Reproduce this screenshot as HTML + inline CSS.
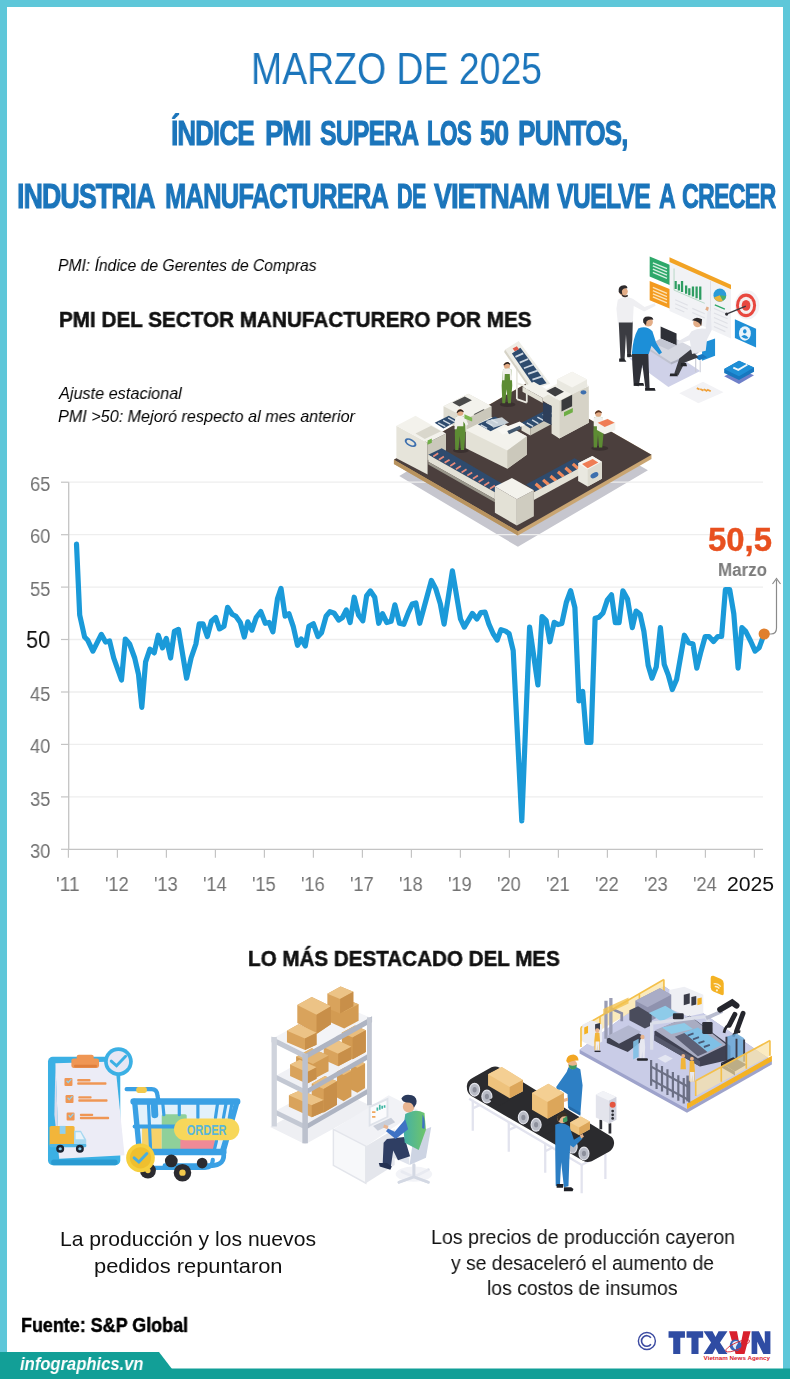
<!DOCTYPE html>
<html lang="es"><head><meta charset="utf-8"><title>PMI Vietnam marzo 2025</title>
<style>
html,body{margin:0;padding:0;background:#fff;}
body{width:790px;height:1379px;position:relative;overflow:hidden;font-family:"Liberation Sans",sans-serif;}
.abs{position:absolute;}
.t{position:absolute;white-space:nowrap;line-height:1;transform-origin:0 0;will-change:transform;}
.bar{position:absolute;}
</style></head><body>
<div class="bar" style="left:0;top:0;width:790px;height:7px;background:#5ec7d9"></div>
<div class="bar" style="left:0;top:0;width:7px;height:1353px;background:#5ec7d9"></div>
<div class="bar" style="left:783px;top:0;width:7px;height:1369px;background:#5ec7d9"></div>
<svg class="abs" style="left:0;top:1340px" width="790" height="39" viewBox="0 1340 790 39">
<rect x="0" y="1368.5" width="790" height="11" fill="#129f97"/>
<path d="M0 1352 H159 L172 1369 H0 Z" fill="#129f97"/>
</svg>
<svg class="abs" style="left:385px;top:330px" width="280" height="220" viewBox="0 0 790 621">
<polygon points="40,412 375,612 742,396 700,372 375,560 80,388" fill="#c6c6ce"/>
</svg>

<svg class="abs" style="left:0;top:0" width="790" height="1379" viewBox="0 0 790 1379">
<line x1="68.7" x2="763" y1="482.2" y2="482.2" stroke="#eeeeee" stroke-width="1.3"/>
<line x1="68.7" x2="763" y1="534.7" y2="534.7" stroke="#eeeeee" stroke-width="1.3"/>
<line x1="68.7" x2="763" y1="587.1" y2="587.1" stroke="#eeeeee" stroke-width="1.3"/>
<line x1="68.7" x2="763" y1="639.5" y2="639.5" stroke="#eeeeee" stroke-width="1.3"/>
<line x1="68.7" x2="763" y1="692.0" y2="692.0" stroke="#eeeeee" stroke-width="1.3"/>
<line x1="68.7" x2="763" y1="744.4" y2="744.4" stroke="#eeeeee" stroke-width="1.3"/>
<line x1="68.7" x2="763" y1="796.9" y2="796.9" stroke="#eeeeee" stroke-width="1.3"/>
<line x1="61" x2="68.7" y1="482.2" y2="482.2" stroke="#c4c4c4" stroke-width="1.2"/>
<line x1="61" x2="68.7" y1="534.7" y2="534.7" stroke="#c4c4c4" stroke-width="1.2"/>
<line x1="61" x2="68.7" y1="587.1" y2="587.1" stroke="#c4c4c4" stroke-width="1.2"/>
<line x1="61" x2="68.7" y1="639.5" y2="639.5" stroke="#c4c4c4" stroke-width="1.2"/>
<line x1="61" x2="68.7" y1="692.0" y2="692.0" stroke="#c4c4c4" stroke-width="1.2"/>
<line x1="61" x2="68.7" y1="744.4" y2="744.4" stroke="#c4c4c4" stroke-width="1.2"/>
<line x1="61" x2="68.7" y1="796.9" y2="796.9" stroke="#c4c4c4" stroke-width="1.2"/>
<line x1="61" x2="68.7" y1="849.3" y2="849.3" stroke="#c4c4c4" stroke-width="1.2"/>
<line x1="68.7" x2="68.7" y1="482.2" y2="849.9" stroke="#c4c4c4" stroke-width="1.3"/>
<line x1="68.7" x2="763" y1="849.3" y2="849.3" stroke="#c4c4c4" stroke-width="1.3"/>
<line x1="68.4" x2="68.4" y1="849.3" y2="857.8" stroke="#c4c4c4" stroke-width="1.2"/>
<line x1="117.4" x2="117.4" y1="849.3" y2="857.8" stroke="#c4c4c4" stroke-width="1.2"/>
<line x1="166.4" x2="166.4" y1="849.3" y2="857.8" stroke="#c4c4c4" stroke-width="1.2"/>
<line x1="215.4" x2="215.4" y1="849.3" y2="857.8" stroke="#c4c4c4" stroke-width="1.2"/>
<line x1="264.4" x2="264.4" y1="849.3" y2="857.8" stroke="#c4c4c4" stroke-width="1.2"/>
<line x1="313.4" x2="313.4" y1="849.3" y2="857.8" stroke="#c4c4c4" stroke-width="1.2"/>
<line x1="362.4" x2="362.4" y1="849.3" y2="857.8" stroke="#c4c4c4" stroke-width="1.2"/>
<line x1="411.4" x2="411.4" y1="849.3" y2="857.8" stroke="#c4c4c4" stroke-width="1.2"/>
<line x1="460.4" x2="460.4" y1="849.3" y2="857.8" stroke="#c4c4c4" stroke-width="1.2"/>
<line x1="509.4" x2="509.4" y1="849.3" y2="857.8" stroke="#c4c4c4" stroke-width="1.2"/>
<line x1="558.4" x2="558.4" y1="849.3" y2="857.8" stroke="#c4c4c4" stroke-width="1.2"/>
<line x1="607.4" x2="607.4" y1="849.3" y2="857.8" stroke="#c4c4c4" stroke-width="1.2"/>
<line x1="656.4" x2="656.4" y1="849.3" y2="857.8" stroke="#c4c4c4" stroke-width="1.2"/>
<line x1="705.4" x2="705.4" y1="849.3" y2="857.8" stroke="#c4c4c4" stroke-width="1.2"/>
<line x1="754.4" x2="754.4" y1="849.3" y2="857.8" stroke="#c4c4c4" stroke-width="1.2"/>
<!--LINE-->
</svg>

<svg class="abs" style="left:385px;top:330px" width="280" height="220" viewBox="0 0 790 621">
<!-- shadow -->
<!-- platform -->
<polygon points="25,366 400,150 752,352 752,364 375,580 25,378" fill="#c9a572"/>
<polygon points="25,366 400,150 752,352 375,568" fill="#4b3f3d"/>
<polygon points="25,366 375,568 375,580 25,378" fill="#b8935f"/>
<!-- back-left unit -->
<polygon points="165,215 235,180 300,215 300,255 232,290 165,255" fill="#dddbd0"/>
<polygon points="165,215 235,180 300,215 232,250" fill="#f3f2ec"/>
<polygon points="190,205 225,188 245,198 210,216" fill="#4a4a4a"/>
<polygon points="250,238 278,224 290,231 262,245" fill="#4a4a4a"/>
<polygon points="232,250 300,215 300,255 232,290" fill="#cbc8bb"/>
<!-- ramp supports -->
<path d="M372,95 V195 M400,120 V205 M372,195 L400,205 M372,150 L400,160" stroke="#e9e8e0" stroke-width="5" fill="none"/>
<!-- ramp -->
<polygon points="339,55 377,31 466,152 416,168" fill="#eeede6"/><polygon points="339,55 416,168 416,178 336,62" fill="#d6d3c7"/>
<polygon points="358,66 382,50 456,150 422,160" fill="#2e4b6e"/>
<path d="M368,76 l22,-10 M380,92 l24,-10 M392,108 l26,-10 M404,124 l28,-10 M416,140 l30,-10" stroke="#cfd8e3" stroke-width="5"/>
<polygon points="360,52 372,46 378,54 366,60" fill="#e05a4a"/>
<!-- conveyor mid (to tall machine) -->
<polygon points="385,262 470,218 495,232 410,278" fill="#2e4b6e"/>
<path d="M400,262 l18,10 M415,254 l18,10 M430,246 l18,10 M445,238 l18,10 M460,230 l18,10" stroke="#cfd8e3" stroke-width="4"/>
<polygon points="385,262 410,278 410,298 385,284" fill="#e3e1d6"/>
<polygon points="410,278 495,232 495,252 410,298" fill="#cbc8bb"/>
<!-- tall machine right -->
<polygon points="485,175 535,150 575,170 575,262 492,306 485,300" fill="#e3e1d6"/>
<polygon points="492,200 575,158 575,262 492,306" fill="#d6d3c7"/>
<polygon points="445,172 528,130 575,156 492,200" fill="#f3f2ec"/>
<polygon points="445,172 492,200 492,306 470,292 470,215 445,200" fill="#e3e1d6"/>
<polygon points="388,160 420,146 470,176 445,192" fill="#f3f2ec"/>
<polygon points="388,160 445,192 445,206 388,174" fill="#e3e1d6"/>
<polygon points="446,204 470,214 470,268 446,256" fill="#2e3f5a"/>
<polygon points="485,140 528,118 570,140 570,160 528,182 485,160" fill="#e9e8e0"/>
<polygon points="485,140 528,118 570,140 528,162" fill="#f6f5f0"/>
<polygon points="455,172 480,160 505,174 480,188" fill="#3e3e40"/>
<polygon points="498,198 528,183 528,215 498,230" fill="#3a3a3c"/>
<polygon points="505,232 530,220 530,232 505,244" fill="#6fae45"/>
<ellipse cx="560" cy="176" rx="8" ry="6" fill="#3d6fae"/>
<!-- middle machine -->
<polygon points="228,282 300,246 345,270 400,300 400,352 345,392 228,334" fill="#e3e1d6"/>
<polygon points="228,282 300,246 400,300 345,340" fill="#f3f2ec"/>
<polygon points="345,340 400,300 400,352 345,392" fill="#cbc8bb"/>
<polygon points="262,266 310,244 345,262 298,286" fill="#2e4b6e"/>
<path d="M270,268 l18,10 M285,260 l18,10 M300,253 l18,10" stroke="#cfd8e3" stroke-width="4"/>
<polygon points="285,256 330,246 350,262 306,276" fill="#dfe6ea" opacity=".85"/>
<polygon points="318,282 380,258 395,268 332,296" fill="#f8f7f3"/>
<polygon points="345,285 380,270 385,278 350,294" fill="#44596f"/>
<!-- left box -->
<polygon points="32,270 120,318 120,408 32,362" fill="#e6e4da"/>
<polygon points="120,318 172,292 172,340 120,368" fill="#cbc8bb"/>
<polygon points="32,270 86,242 172,292 120,318" fill="#f3f2ec"/>
<polygon points="86,292 130,270 158,286 112,308" fill="#d9d7cc"/>
<ellipse cx="72" cy="318" rx="18" ry="10" transform="rotate(28 72 318)" fill="#3d6fae"/>
<ellipse cx="72" cy="318" rx="12" ry="5.5" transform="rotate(28 72 318)" fill="#e6e4da"/>
<polygon points="120,312 132,306 132,318 120,324" fill="#6fae45"/>
<!-- small conveyor from back-left to left box -->
<polygon points="140,262 180,242 205,256 165,278" fill="#2e4b6e"/>
<path d="M150,262 l20,11 M164,255 l20,11 M178,248 l20,11" stroke="#cfd8e3" stroke-width="4"/>
<!-- left-front conveyor -->
<polygon points="122,352 160,334 338,438 310,458" fill="#2e4b6e"/>
<path d="M150,348 l-14,9 M166,357 l-14,9 M182,366 l-14,9 M198,375 l-14,9 M214,384 l-14,9 M230,393 l-14,9 M246,402 l-14,9 M262,411 l-14,9 M278,420 l-14,9 M294,430 l-14,9 M310,439 l-14,9" stroke="#e98a7a" stroke-width="5"/>
<polygon points="122,352 310,458 310,478 122,372" fill="#e3e1d6"/>
<polygon points="122,372 310,478 310,486 122,380" fill="#9a978c"/>
<!-- right-front conveyor -->
<polygon points="398,436 535,362 568,382 428,458" fill="#2e4b6e"/>
<path d="M425,434 l16,14 M446,423 l16,14 M467,412 l16,14 M488,400 l16,14 M509,389 l16,14 M530,378 l16,14" stroke="#f08a5c" stroke-width="9"/>
<polygon points="420,458 560,384 560,404 420,480" fill="#e3e1d6"/>
<!-- small end box -->
<polygon points="545,376 585,356 612,372 612,420 572,442 545,426" fill="#e9e8e0"/>
<polygon points="545,376 585,356 612,372 572,394" fill="#f6f5f0"/>
<polygon points="556,378 586,364 602,374 572,390" fill="#ef7d55"/>
<polygon points="572,394 612,372 612,420 572,442" fill="#dddbd0"/>
<ellipse cx="591" cy="410" rx="12" ry="7" transform="rotate(-28 591 410)" fill="#3d6fae"/>
<!-- front box -->
<polygon points="310,442 372,478 372,552 310,516" fill="#e3e1d6"/>
<polygon points="372,478 420,452 420,526 372,552" fill="#cfccc0"/>
<polygon points="310,442 358,418 420,452 372,478" fill="#f3f2ec"/>
<!-- worker back -->
<ellipse cx="346" cy="210" rx="22" ry="7" fill="#2f2726" opacity=".6"/>
<path d="M333,112 q12,-8 24,0 l2,45 -4,50 h-8 l-4,-40 -4,40 h-8 l-2,-50z" fill="#5d8c33"/>
<path d="M332,112 q12,-9 25,0 l2,30 h-6 l-1,-18 h-14 l-1,18 h-6z" fill="#f1f0ec"/>
<circle cx="344" cy="100" r="9" fill="#e2aa84"/><path d="M334,98 q10,-14 20,-2 l-2,2 q-8,-6 -16,2z" fill="#2d2420"/>
<!-- worker left -->
<ellipse cx="214" cy="340" rx="22" ry="7" fill="#2f2726" opacity=".6"/>
<path d="M199,246 q12,-8 26,0 l2,45 -4,48 h-9 l-3,-40 -4,40 h-9 l-1,-48z" fill="#5d8c33"/>
<path d="M198,246 q13,-9 27,0 l10,20 -6,4 -8,-12 v14 h-17 l-2,8 h-6z" fill="#f1f0ec"/>
<circle cx="212" cy="233" r="9" fill="#e2aa84"/><path d="M202,232 q8,-15 20,-3 l-1,3 q-9,-7 -18,3z" fill="#2d2420"/>
<polygon points="224,238 246,248 246,258 224,250" fill="#7db84f"/>
<!-- worker right -->
<ellipse cx="606" cy="334" rx="24" ry="7" fill="#2f2726" opacity=".6"/>
<path d="M590,248 q12,-8 24,0 l3,40 -4,44 h-9 l-3,-36 -3,36 h-9 l-1,-44z" fill="#5d8c33"/>
<path d="M589,248 q13,-9 26,0 l2,24 h-28z" fill="#f1f0ec"/>
<circle cx="602" cy="236" r="9" fill="#e2aa84"/><path d="M592,234 q9,-14 20,-2 l-1,3 q-9,-7 -18,2z" fill="#5a3420"/>
<polygon points="598,262 628,250 650,262 650,282 620,294 598,282" fill="#f3f2ec"/>
<polygon points="600,262 628,251 648,262 620,274" fill="#ef7d55"/>
</svg>

<svg class="abs" style="left:0;top:0" width="790" height="1379" viewBox="0 0 790 1379"><path d="M76.5 544.0 L79.7 615.0 L84.6 637.0 L87.8 640.3 L92.9 651.1 L101.3 634.4 L105.6 642.0 L109.6 641.0 L113.7 658.0 L121.5 680.0 L125.3 639.0 L129.6 644.0 L134.7 658.0 L138.5 674.4 L141.8 707.3 L145.6 661.8 L149.9 649.1 L154.2 652.9 L158.2 635.2 L162.5 647.8 L166.3 638.5 L170.6 658.0 L174.4 631.4 L178.5 629.4 L186.6 678.2 L191.1 658.0 L195.9 644.0 L199.2 623.8 L203.0 623.8 L207.3 636.5 L211.4 621.3 L215.7 617.5 L219.5 628.9 L224.0 626.3 L227.6 607.3 L232.2 614.2 L235.9 616.2 L240.3 622.5 L244.3 637.0 L247.8 621.8 L251.9 630.1 L256.2 617.5 L260.8 611.6 L265.3 623.3 L269.1 622.5 L272.9 631.9 L277.5 598.5 L281.0 588.4 L285.1 616.2 L288.9 613.7 L293.2 626.3 L297.5 645.3 L301.3 639.0 L305.3 646.0 L308.9 626.3 L313.4 623.8 L318.0 636.5 L321.5 632.7 L326.1 616.2 L329.9 611.6 L334.2 613.2 L338.7 620.0 L342.5 617.5 L346.3 609.9 L350.1 622.5 L354.2 597.2 L358.5 614.9 L362.8 620.8 L366.6 595.9 L370.4 590.9 L374.7 597.2 L378.7 623.3 L382.5 613.7 L386.8 622.5 L391.1 621.3 L394.9 604.8 L399.5 623.3 L403.8 624.3 L408.4 612.4 L412.2 604.1 L415.9 603.0 L419.7 623.3 L431.4 580.5 L435.7 588.6 L440.3 603.8 L444.1 624.1 L452.4 570.9 L460.5 619.0 L464.3 627.1 L472.4 613.4 L477.0 619.0 L480.8 612.7 L485.1 612.2 L488.9 624.1 L493.4 634.2 L497.2 640.0 L501.0 629.6 L505.6 631.1 L509.1 633.7 L513.2 650.6 L521.8 821.0 L529.6 627.1 L537.9 685.0 L542.0 616.5 L546.1 620.3 L549.9 641.8 L554.2 622.3 L558.0 624.6 L561.8 623.5 L566.3 602.5 L570.6 590.6 L574.9 607.6 L578.9 701.0 L582.7 691.5 L586.8 742.5 L590.9 742.5 L595.1 618.2 L598.9 617.3 L603.0 613.0 L607.3 600.2 L611.5 594.8 L615.3 622.6 L619.1 622.6 L622.9 590.9 L627.5 599.0 L632.3 627.6 L636.1 611.1 L640.1 614.2 L643.9 631.4 L648.2 665.6 L652.0 678.2 L656.3 666.8 L660.4 627.6 L664.2 664.3 L668.5 675.7 L672.3 689.6 L676.6 679.5 L684.4 635.2 L688.7 642.8 L693.0 644.1 L696.8 668.1 L700.6 652.9 L705.2 636.5 L709.0 636.5 L713.5 641.5 L717.8 636.5 L721.6 636.5 L725.4 589.6 L729.7 589.6 L733.8 613.7 L738.1 668.1 L741.9 627.6 L745.7 631.4 L750.8 641.5 L755.1 651.1 L759.1 647.8 L764.2 633.9" fill="none" stroke="#1a9ad9" stroke-width="5.2" stroke-linejoin="round" stroke-linecap="round"/><path d="M764 634 H771 Q776.5 634 776.5 628 V580" fill="none" stroke="#8a8a8a" stroke-width="1.2"/><path d="M772.5 584 L776.5 578.5 L780.5 584" fill="none" stroke="#8a8a8a" stroke-width="1.2"/><circle cx="764.2" cy="634" r="5.6" fill="#e07f2c"/></svg>

<svg class="abs" style="left:600px;top:240px" width="180" height="170" viewBox="0 0 790 746">
<!-- rug -->
<polygon points="128,520 270,462 440,575 300,645" fill="#cfd1e8"/>
<!-- panels -->
<polygon points="218,72 308,110 308,198 218,160" fill="#2ea86a"/>
<path d="M232,100 l62,26 M232,114 l62,26 M232,128 l62,26 M232,142 l62,26" stroke="#d8f0e2" stroke-width="6"/>
<polygon points="218,180 308,216 308,302 218,264" fill="#f39a1e"/>
<path d="M232,208 l62,26 M232,222 l62,26 M232,236 l62,26 M232,250 l62,26" stroke="#fde2b5" stroke-width="6"/>
<polygon points="305,92 575,212 575,432 305,312" fill="#f1f2f5"/>
<polygon points="305,76 575,196 575,216 305,96" fill="#f2a324"/>
<path d="M485,180 V392" stroke="#dcdde3" stroke-width="4"/>
<path d="M332,215 v-35 M346,222 v-28 M360,228 v-48 M378,236 v-36 M392,242 v-30 M408,248 v-44 M424,256 v-52 M440,262 v-58" stroke="#2e9d62" stroke-width="10"/>
<path d="M325,125 V220 L460,278" stroke="#9fcdb3" stroke-width="3" fill="none"/>
<path d="M330,262 l55,24 M330,280 l55,24 M330,298 l40,18 M405,300 l55,24 M405,318 l55,24" stroke="#dfe0e6" stroke-width="5"/>
<path d="M500,300 l60,26 M500,320 l60,26 M500,340 l60,26 M500,360 l60,26 M500,380 l50,22" stroke="#dfe0e6" stroke-width="5"/>
<ellipse cx="526" cy="242" rx="28" ry="29" fill="#2a9bd8"/>
<path d="M526,242 L500,252 A28,29 0 0 0 540,267z" fill="#e9b43a"/>
<path d="M526,242 L540,267 A28,29 0 0 0 554,246z" fill="#48b06b"/>
<path d="M504,285 l44,18" stroke="#2ea86a" stroke-width="6"/>
<!-- target -->
<ellipse cx="646" cy="285" rx="54" ry="64" fill="#f3f3f6"/>
<ellipse cx="641" cy="287" rx="44" ry="52" fill="#e8473f"/>
<ellipse cx="641" cy="287" rx="31" ry="38" fill="#f6eeee"/>
<ellipse cx="641" cy="287" rx="19" ry="24" fill="#e8473f"/>
<path d="M552,326 L640,290" stroke="#3a3a40" stroke-width="6"/><circle cx="556" cy="325" r="7" fill="#2f2f35"/>
<!-- blue square -->
<polygon points="592,348 685,390 685,472 592,430" fill="#1f8fd6"/>
<ellipse cx="636" cy="410" rx="26" ry="32" fill="#e9f3fb"/>
<path d="M636,392 a8,9 0 1 1 -1,0z M620,424 q16,-16 32,6 q-16,8 -32,-6z" fill="#1f8fd6"/>
<!-- check tile -->
<polygon points="545,598 610,566 676,594 610,632" fill="#6f80c9"/>
<polygon points="545,566 610,530 676,560 676,578 610,614 545,584" fill="#1877bf"/>
<polygon points="545,566 610,530 676,560 610,598" fill="#1f8fd6"/>
<path d="M585,560 l22,10 l40,-24" stroke="#f2f7fb" stroke-width="8" fill="none"/>
<!-- paper -->
<polygon points="348,672 452,622 542,668 432,716" fill="#f2f2f5"/>
<path d="M425,650 l12,6 M440,654 l14,7 M455,655 l16,8 M470,656 l16,8" stroke="#f0a13a" stroke-width="8"/>
<!-- person 1 standing -->
<path d="M82,355 h62 l-2,80 -8,80 h-14 l-6,-100 -6,108 h-18 z" fill="#3b3c42"/>
<path d="M84,520 h22 l10,14 h-32z M120,500 h16 l6,12 h-22z" fill="#25262b"/>
<path d="M78,262 q30,-22 66,-4 l52,36 44,-16 4,10 -50,26 -46,-24 -4,72 h-66 l-6,-60z" fill="#efeff2"/>
<circle cx="103" cy="226" r="19" fill="#e3ad87"/>
<path d="M82,228 q-4,-30 24,-30 q16,2 14,14 q-20,-4 -24,12 l2,16 q-12,-4 -16,-12z" fill="#2d2a2c"/>
<path d="M96,238 q12,10 26,2 v8 q-14,8 -26,-2z" fill="#3a2e2a"/>
<!-- desk -->
<polygon points="205,468 322,428 432,486 312,536" fill="#d6d8e1"/>
<polygon points="205,468 312,536 312,546 205,478" fill="#bfc2cf"/>
<polygon points="312,536 432,486 432,496 312,546" fill="#aeb1c0"/>
<path d="M420,500 v80" stroke="#c9cbd6" stroke-width="5"/>
<!-- laptop -->
<polygon points="266,380 336,410 336,462 266,432" fill="#2d2f36"/>
<polygon points="266,432 336,462 300,482 232,452" fill="#c3c6d2"/>
<!-- chair -->
<polygon points="448,452 505,432 505,508 448,530" fill="#1f8fd6"/>
<polygon points="415,512 448,500 470,514 436,528" fill="#1877bf"/>
<path d="M440,528 v52" stroke="#d6d8e1" stroke-width="6"/>
<!-- person 3 seated -->
<path d="M398,480 l-50,40 -22,66 18,8 28,-56 60,-24z" fill="#3b3c42"/>
<path d="M308,586 h30 l4,12 h-36z M356,540 h22 l4,14 h-28z" fill="#25262b"/>
<path d="M402,400 q30,-16 62,-10 l8,-80 14,2 4,84 -20,40 -6,50 -60,14 -10,-60 -50,16 -4,-10 50,-28z" fill="#e7e8ee"/>
<circle cx="428" cy="364" r="19" fill="#e3ad87"/>
<path d="M404,352 q16,-20 44,-4 l-4,30 q-6,-22 -40,-26z" fill="#2d2a2c"/>
<path d="M462,306 l6,-14 10,4 -4,16z" fill="#e3ad87"/>
<!-- person 2 blue -->
<path d="M140,490 h72 l2,70 4,96 h-18 l-14,-110 -16,96 -22,-4 -6,-90z" fill="#303138"/>
<path d="M150,628 h40 l4,12 h-46z M198,650 h42 l4,12 h-46z" fill="#222328"/>
<path d="M168,388 q36,-14 62,12 l16,50 26,44 -12,8 -34,-38 -12,36 h-74 q4,-70 28,-112z" fill="#1c8fd8"/>
<circle cx="212" cy="360" r="20" fill="#e3ad87"/>
<path d="M190,362 q-6,-26 22,-26 q20,0 22,14 q-22,-4 -30,8 l-2,16z" fill="#2d2a2c"/>
</svg>

<svg class="abs" style="left:40px;top:1035px" width="210" height="160" viewBox="0 0 790 602">
<!-- clipboard -->
<rect x="30" y="82" width="272" height="408" rx="18" fill="#3bb0e4"/>
<rect x="42" y="468" width="250" height="22" rx="10" fill="#2a9bd2"/>
<polygon points="58,106 282,100 318,452 72,466" fill="#ececf6"/>
<polygon points="58,106 72,466 54,300" fill="#d9daec"/>
<rect x="118" y="88" width="104" height="36" rx="8" fill="#ef9654"/>
<rect x="138" y="74" width="64" height="26" rx="8" fill="#ef9654"/>
<rect x="128" y="112" width="86" height="10" rx="4" fill="#e07f3c"/>
<g fill="#ef9654">
<rect x="92" y="162" width="30" height="30" rx="4"/><rect x="140" y="166" width="50" height="9" rx="3"/><rect x="140" y="178" width="110" height="9" rx="3"/>
<rect x="96" y="226" width="30" height="30" rx="4"/><rect x="144" y="230" width="50" height="9" rx="3"/><rect x="144" y="242" width="110" height="9" rx="3"/>
<rect x="100" y="292" width="30" height="30" rx="4"/><rect x="150" y="296" width="50" height="9" rx="3"/><rect x="150" y="308" width="110" height="9" rx="3"/>
</g>
<path d="M100,172 l6,7 l12,-13 M104,236 l6,7 l12,-13 M108,302 l6,7 l12,-13" stroke="#8fd0ee" stroke-width="5" fill="none"/>
<!-- check circle -->
<circle cx="295" cy="100" r="54" fill="#3bb0e4"/>
<circle cx="295" cy="100" r="40" fill="#e6e7f4"/>
<path d="M268,98 l20,18 l34,-36" stroke="#3bb0e4" stroke-width="11" fill="none" stroke-linecap="round"/>
<!-- truck -->
<rect x="36" y="342" width="94" height="76" rx="6" fill="#f2b53a"/>
<rect x="74" y="342" width="22" height="30" fill="#8fd0ee"/>
<path d="M128,360 h26 l20,34 v26 h-46z" fill="#a6d8f1"/>
<path d="M134,366 h18 l14,26 h-32z" fill="#e9f3fa"/>
<rect x="36" y="410" width="138" height="12" rx="4" fill="#52b6e3"/>
<circle cx="76" cy="428" r="15" fill="#1c2433"/><circle cx="76" cy="428" r="6" fill="#7ec8ec"/>
<circle cx="150" cy="428" r="15" fill="#1c2433"/><circle cx="150" cy="428" r="6" fill="#7ec8ec"/>
<!-- cart items -->
<polygon points="352,250 742,256 690,436 372,440" fill="#cfe8f9" opacity=".6"/>
<rect x="384" y="345" width="74" height="86" rx="4" fill="#f6d26a"/>
<rect x="458" y="298" width="94" height="134" rx="6" fill="#8fd09a"/>
<rect x="528" y="392" width="130" height="42" rx="6" fill="#f08a96"/>
<!-- cart frame -->
<g stroke="#3aa0e4" fill="none" stroke-linecap="round">
<path d="M326,204 H420 Q440,204 442,228 L446,250" stroke-width="16"/>
<path d="M352,250 H742" stroke-width="24"/>
<path d="M356,250 L374,440 M740,256 L690,436" stroke-width="20"/>
<path d="M356,344 H716" stroke-width="15"/>
<path d="M374,440 H690" stroke-width="24"/>
<path d="M408,258 L416,432 M462,258 L466,300 M524,258 L524,300 M594,258 L594,312 M668,258 L660,312 M700,258 L690,312 M722,258 L712,312 M664,398 L656,432 M694,398 L684,432" stroke-width="12"/>
<path d="M430,262 L432,300" stroke-width="26"/>
<path d="M690,440 Q700,490 640,492 H470" stroke-width="18"/>
<path d="M380,500 H620 Q650,498 650,470" stroke-width="16"/>
</g>
<rect x="362" y="196" width="40" height="22" rx="8" fill="#f2c94c"/>
<!-- order badge -->
<rect x="504" y="314" width="246" height="82" rx="41" fill="#f7d75a"/>
<text x="627" y="376" font-family="Liberation Sans, sans-serif" font-size="58" font-weight="bold" fill="#5bb6d8" text-anchor="middle" textLength="150" lengthAdjust="spacingAndGlyphs">ORDER</text>
<!-- wheels -->
<circle cx="494" cy="474" r="24" fill="#2b2b30"/>
<circle cx="610" cy="482" r="20" fill="#2b2b30"/>
<circle cx="406" cy="510" r="30" fill="#2b2b30"/><circle cx="406" cy="510" r="10" fill="#f2c94c"/>
<circle cx="536" cy="518" r="33" fill="#2b2b30"/><circle cx="536" cy="518" r="12" fill="#f2c94c"/>
<!-- coin -->
<circle cx="378" cy="462" r="54" fill="#f6cf3e"/>
<circle cx="378" cy="462" r="40" fill="#efbf2f"/>
<path d="M354,462 l18,16 l30,-32" stroke="#4aaee0" stroke-width="11" fill="none" stroke-linecap="round"/>
</svg>

<svg class="abs" style="left:260px;top:975px" width="190" height="220" viewBox="0 0 790 915">
<defs>
<linearGradient id="vest" x1="0" y1="0" x2="1" y2="0"><stop offset="0" stop-color="#45b0a6"/><stop offset="1" stop-color="#6fc56a"/></linearGradient>
</defs>
<!-- floor shadow -->
<polygon points="42,632 188,704 470,548 320,478" fill="#eeeff3"/>
<!-- back posts -->
<path d="M322,110 V480" stroke="#dfe2e9" stroke-width="16"/>
<!-- shelf surfaces -->
<polygon points="56,262 320,120 456,176 190,326" fill="#f3f4f7"/>
<polygon points="64,420 320,280 450,330 190,474" fill="#f0f1f5"/>
<polygon points="64,566 320,426 450,474 190,618" fill="#f0f1f5"/>
<!-- boxes: helper colours top #e9bd7d left #d9a35c right #c88f49 -->
<!-- bottom level -->
<g>
<polygon points="378,372 410,355 437,368 437,470 405,490 378,476" fill="#d39b52"/><polygon points="378,372 410,355 437,368 405,386" fill="#e9bd7d"/>
<polygon points="320,402 352,385 380,398 380,505 348,525 320,510" fill="#d39b52"/><polygon points="320,402 352,385 380,398 348,416" fill="#e9bd7d"/>
<polygon points="215,452 270,420 320,442 320,540 265,572 215,548" fill="#d7a058"/><polygon points="215,452 270,420 320,442 265,474" fill="#e9bd7d"/><polygon points="265,474 320,442 320,540 265,572" fill="#c88f49"/>
<polygon points="120,500 170,478 265,520 265,570 215,592 120,548" fill="#d9a35c"/><polygon points="120,500 170,478 265,520 215,542" fill="#ecc386"/><polygon points="215,542 265,520 265,570 215,592" fill="#c88f49"/>
</g>
<!-- mid level -->
<g>
<polygon points="340,240 395,210 440,230 440,320 385,350 340,330" fill="#d39b52"/><polygon points="340,240 395,210 440,230 385,260" fill="#e9bd7d"/><polygon points="385,260 440,230 440,320 385,350" fill="#c88f49"/>
<polygon points="265,300 320,270 380,298 380,350 325,380 265,352" fill="#d9a35c"/><polygon points="265,300 320,270 380,298 325,328" fill="#ecc386"/><polygon points="325,328 380,298 380,350 325,380" fill="#c88f49"/>
<polygon points="150,340 215,305 285,335 285,400 220,435 150,405" fill="#d39b52"/><polygon points="150,340 215,305 285,335 220,370" fill="#e3b573"/>
<polygon points="125,372 165,352 235,384 235,432 195,452 125,420" fill="#d9a35c"/><polygon points="125,372 165,352 235,384 195,404" fill="#ecc386"/><polygon points="195,404 235,384 235,432 195,452" fill="#c88f49"/>
</g>
<!-- top level -->
<g>
<polygon points="295,130 355,100 410,122 410,190 350,222 295,198" fill="#d39b52"/><polygon points="295,130 355,100 410,122 350,152" fill="#e3b573"/>
<polygon points="280,78 335,48 388,70 388,130 333,160 280,138" fill="#d9a35c"/><polygon points="280,78 335,48 388,70 333,100" fill="#ecc386"/><polygon points="333,100 388,70 388,130 333,160" fill="#c88f49"/>
<polygon points="155,125 215,92 295,130 295,205 235,245 155,200" fill="#d9a35c"/><polygon points="155,125 215,92 295,130 235,165" fill="#ecc386"/><polygon points="235,165 295,130 295,205 235,245" fill="#c88f49"/>
<polygon points="112,232 160,205 235,240 235,290 187,312 112,280" fill="#d9a35c"/><polygon points="112,232 160,205 235,240 187,264" fill="#ecc386"/><polygon points="187,264 235,240 235,290 187,312" fill="#c88f49"/>
</g>
<!-- frame beams -->
<g fill="#c3c8d3">
<polygon points="48,256 190,326 190,350 48,280"/>
<polygon points="60,412 190,476 190,498 60,434"/>
<polygon points="60,558 190,622 190,644 60,580"/>
</g>
<g fill="#aeb4c2">
<polygon points="190,326 466,172 466,196 190,350"/>
<polygon points="190,476 450,328 450,350 190,498"/>
<polygon points="190,622 450,472 450,494 190,644"/>
</g>
<!-- posts -->
<rect x="48" y="258" width="22" height="372" fill="#cfd3dc"/>
<rect x="176" y="328" width="23" height="372" fill="#bcc1cd"/>
<rect x="445" y="176" width="20" height="366" fill="#c3c8d3"/>
<!-- desk -->
<polygon points="305,642 535,500 660,562 440,712" fill="#f1f2f6"/>
<polygon points="305,642 440,712 440,866 305,792" fill="#f7f8fa"/>
<path d="M305,642 L440,712 V866 L305,792z" fill="none" stroke="#e3e5eb" stroke-width="6"/>
<polygon points="440,712 560,640 560,790 440,866" fill="#e4e6ec"/>
<!-- laptop -->
<polygon points="452,546 534,510 534,592 452,632" fill="#dfe3ea"/>
<polygon points="460,552 526,522 526,588 460,620" fill="#fbfbfd"/>
<path d="M488,565 v-14 M498,560 v-20 M508,556 v-12 M518,552 v-10" stroke="#3fb6a4" stroke-width="7"/>
<path d="M466,570 h14 M466,590 h14" stroke="#f0a65c" stroke-width="7"/>
<polygon points="470,628 545,594 562,612 490,648" fill="#c9ced9"/>
<!-- chair -->
<polygon points="640,660 712,632 690,760 622,790" fill="#cdd4e3"/>
<polygon points="548,730 620,760 622,790 552,758" fill="#dfe3ec"/>
<path d="M640,790 v50 M640,840 l-62,22 M640,840 l60,22 M640,840 l-50,-22 M640,840 l60,-30" stroke="#dde1ea" stroke-width="12" stroke-linecap="round"/>
<ellipse cx="640" cy="828" rx="76" ry="32" fill="#eceef3" opacity=".7"/>
<path d="M640,790 v50 M640,840 l-62,22 M640,840 l60,22" stroke="#d3d8e3" stroke-width="12" stroke-linecap="round"/>
<!-- person -->
<path d="M528,682 l72,-8 24,80 -50,16 -20,-40 -10,68 -34,-8 4,-92z" fill="#2f3e63"/>
<path d="M494,782 l34,0 20,14 -6,14 -44,-14z" fill="#243152"/>
<path d="M604,578 q40,-24 80,-4 l6,70 -30,84 -58,-30 -6,-60z" fill="url(#vest)"/>
<path d="M604,600 l-44,52 -28,-14 -8,12 40,32 52,-40z" fill="#3f72c4"/>
<path d="M676,580 q12,20 8,60 l-10,-4z" fill="#3f72c4"/>
<path d="M516,622 l18,6 -4,14 -18,-8z" fill="#e9b591"/>
<circle cx="618" cy="548" r="24" fill="#e9b591"/>
<path d="M588,514 q10,-22 44,-14 q24,8 18,36 l-10,16 q-4,-24 -30,-22 q-16,0 -22,-16z" fill="#2b3a5c"/>
</svg>

<svg class="abs" style="left:455px;top:1040px" width="180" height="160" viewBox="0 0 790 702">
<!-- legs -->
<g stroke="#e2e3ee" stroke-width="10" fill="none">
<path d="M78,262 V398 M236,360 V490 M396,452 V582 M556,545 V672 M660,500 V610"/>
<path d="M62,258 L556,548 L668,488" />
<path d="M78,300 L110,285 M236,395 L268,380 M396,488 L428,472"/>
</g>
<!-- belt -->
<path d="M52,205 Q50,180 80,165 L160,120 Q178,112 196,122 L680,420 Q700,432 698,455 Q696,478 676,490 L600,532 Q580,540 562,530 L70,245 Q52,232 52,205z" fill="#2b2b2e"/>
<!-- rollers -->
<g fill="#b9bcc6" stroke="#e4e5ec" stroke-width="5">
<ellipse cx="86" cy="218" rx="22" ry="28"/><ellipse cx="140" cy="248" rx="22" ry="28"/>
<ellipse cx="300" cy="340" rx="22" ry="28"/><ellipse cx="356" cy="372" rx="22" ry="28"/>
<ellipse cx="516" cy="470" rx="20" ry="26"/><ellipse cx="566" cy="498" rx="22" ry="28"/>
</g>
<g fill="#8d909c"><ellipse cx="86" cy="218" rx="9" ry="12"/><ellipse cx="140" cy="248" rx="9" ry="12"/><ellipse cx="300" cy="340" rx="9" ry="12"/><ellipse cx="356" cy="372" rx="9" ry="12"/><ellipse cx="566" cy="498" rx="9" ry="12"/></g>
<polygon points="150,262 196,238 240,262 196,288" fill="#2b2b2e"/>
<polygon points="370,392 416,368 450,388 400,414" fill="#2b2b2e"/>
<!-- control box -->
<path d="M640,350 V392 M680,365 V410" stroke="#2f3036" stroke-width="12"/>
<polygon points="618,240 650,224 708,250 708,350 676,366 618,340" fill="#e3e4ec"/>
<polygon points="618,240 650,224 708,250 676,266" fill="#f2f3f7"/>
<polygon points="676,266 708,250 708,350 676,366" fill="#cfd1dc"/>
<circle cx="692" cy="284" r="13" fill="#e4553f"/>
<circle cx="692" cy="312" r="6" fill="#2f3036"/><circle cx="692" cy="328" r="6" fill="#2f3036"/><circle cx="692" cy="344" r="6" fill="#2f3036"/>
<!-- box 1 -->
<polygon points="145,150 205,118 298,175 298,225 240,256 145,200" fill="#eec27c"/>
<polygon points="145,150 205,118 298,175 240,206" fill="#f4cf93"/>
<polygon points="240,206 298,175 298,225 240,256" fill="#dca65a"/>
<!-- worker back -->
<path d="M498,120 q28,-10 52,8 l10,70 -10,130 -54,-30 -2,-60 -30,-20 -16,0 -4,-12 46,-66z" fill="#2d7fc4"/>
<path d="M500,290 l50,28 v14 l-50,-28z" fill="#246aa8"/>
<circle cx="516" cy="108" r="20" fill="#e8b48c"/>
<path d="M500,108 q16,10 34,0 l-2,16 q-14,10 -30,0z" fill="#3d9a62"/>
<path d="M488,92 q4,-28 32,-28 q22,4 22,26 q-30,-2 -46,12z" fill="#f2a623"/>
<!-- box 2 -->
<polygon points="338,232 410,192 478,232 478,306 406,346 338,306" fill="#eec27c"/>
<polygon points="338,232 410,192 478,232 406,272" fill="#f4cf93"/>
<polygon points="406,272 478,232 478,306 406,346" fill="#dca65a"/>
<path d="M478,258 l18,-6 v14 l-18,6z" fill="#e8b48c"/>
<!-- box 3 -->
<polygon points="505,362 552,336 592,358 592,392 545,418 505,396" fill="#eec27c"/>
<polygon points="505,362 552,336 592,358 545,384" fill="#f4cf93"/>
<polygon points="545,384 592,358 592,392 545,418" fill="#dca65a"/>
<!-- worker front -->
<path d="M440,372 q30,-16 62,6 l20,60 30,-18 8,12 -40,40 -14,-10 -4,60 -4,120 -20,4 -12,-110 -6,110 -18,-6 -2,-140z" fill="#2d7fc4"/>
<path d="M446,632 h30 l-2,16 h-28z M478,646 h32 l10,8 -4,10 h-38z" fill="#1f2026"/>
<circle cx="470" cy="344" r="21" fill="#e8b48c"/>
<path d="M448,340 q6,-26 32,-22 q14,4 12,18 q-20,-6 -30,8 l-6,14 q-8,-6 -8,-18z" fill="#3a3024"/>
<path d="M474,344 q12,-4 18,-12 l2,22 q-8,10 -20,6z" fill="#3d9a62"/>
<path d="M548,418 l12,-6 6,12 -12,8z" fill="#e8b48c"/>
</svg>

<svg class="abs" style="left:570px;top:960px" width="215" height="155" viewBox="0 0 790 570">
<!-- floor -->
<polygon points="35,330 345,96 742,370 742,384 430,562 35,344" fill="#9ea3cb"/>
<polygon points="35,330 345,96 742,370 430,548" fill="#c9cce7"/>
<polygon points="430,528 742,352 742,372 430,548" fill="#f4b223"/>
<!-- back fences -->
<polygon points="40,248 345,72 345,120 40,300" fill="#f9e3a6" opacity=".75"/>
<path d="M40,248 L345,72 M40,248 V320 M110,208 V275 M255,124 V170 M345,72 V120" stroke="#f4c04a" stroke-width="6" fill="none"/>
<!-- white cabinets -->
<polygon points="365,110 420,98 490,128 490,196 435,208 365,178" fill="#eeeff4"/>
<polygon points="418,128 440,122 440,160 418,166" fill="#3a3c48"/><polygon points="446,136 464,132 464,164 446,168" fill="#3a3c48"/>
<polygon points="468,142 484,138 484,162 468,166" fill="#f4b223"/>
<!-- left cabinet -->
<polygon points="45,238 80,222 118,238 118,300 84,318 45,300" fill="#ebecf2"/>
<polygon points="52,248 66,242 66,268 52,274" fill="#f4b223"/><polygon points="92,236 110,232 110,256 92,260" fill="#3a3c48"/>
<!-- poles -->
<path d="M132,150 V290 M150,140 V280" stroke="#9a9db4" stroke-width="12"/>
<path d="M150,178 L190,196 V225" stroke="#8a8da6" stroke-width="10" fill="none"/>
<polygon points="122,180 215,138 215,160 122,204" fill="#f2c24d" opacity=".8"/>
<!-- flat table -->
<polygon points="135,290 215,250 262,275 262,300 212,338 135,305" fill="#3f4150"/>
<polygon points="135,280 215,240 262,265 180,308" fill="#b3b7cf"/>
<!-- purple block -->
<polygon points="240,150 330,104 372,128 372,185 285,230 240,205" fill="#8f92ae"/>
<polygon points="240,150 330,104 372,128 285,174" fill="#a9acc6"/>
<polygon points="218,185 250,170 300,200 300,240 275,252 218,222" fill="#4a4c5c"/>
<!-- blue glass -->
<polygon points="290,195 350,168 395,196 335,226" fill="#8ecbe9"/>
<!-- main machine -->
<polygon points="310,262 440,205 590,316 590,366 478,392 310,296" fill="#3f4152"/>
<polygon points="312,258 440,205 575,312 470,362" fill="#a9acc2"/>
<polygon points="338,248 420,232 452,254 372,272" fill="#8ecbe9"/>
<polygon points="415,268 470,248 560,312 505,338" fill="#7fc0e6"/>
<polygon points="385,282 420,268 505,338 470,354" fill="#5d6076"/>
<path d="M432,278 l22,-8 M452,292 l22,-8 M472,306 l22,-8 M492,320 l22,-8" stroke="#4a5a78" stroke-width="7"/>
<polygon points="310,296 478,392 478,372 310,276" fill="#55586b"/>
<!-- robot bridge -->
<path d="M300,230 V330 M300,232 L500,208 L520,250" stroke="#dcdfea" stroke-width="12" fill="none"/>
<rect x="486" y="228" width="38" height="44" rx="5" fill="#2e2f39"/>
<rect x="378" y="196" width="40" height="22" rx="5" fill="#2e2f39"/>
<path d="M500,214 L560,188" stroke="#b9bdd0" stroke-width="14"/>
<!-- robot arms -->
<path d="M552,182 L596,156 L612,168" stroke="#25262d" stroke-width="22" stroke-linecap="round" fill="none"/>
<path d="M585,240 L606,200 M612,262 L636,196" stroke="#25262d" stroke-width="18" stroke-linecap="round" fill="none"/>
<path d="M566,268 q6,-30 24,-28 M600,282 q6,-22 26,-18" stroke="#25262d" stroke-width="10" fill="none"/>
<!-- glass cabinet right -->
<polygon points="575,282 612,270 640,288 640,372 604,388 575,370" fill="#6aa7d6" opacity=".85"/>
<path d="M575,282 V370 M612,290 V392 M640,292 V374" stroke="#3c3e4c" stroke-width="7"/>
<polygon points="555,378 600,358 650,384 606,410" fill="#2e2f39"/>
<polygon points="555,378 606,410 606,424 555,394" fill="#25262d"/>
<!-- right fence -->
<polygon points="462,444 735,296 735,352 462,500" fill="#f9e3a6" opacity=".7"/>
<path d="M462,444 L735,296 M462,444 V500 M556,392 V448 M648,344 V400 M735,296 V352" stroke="#f4c04a" stroke-width="6" fill="none"/>
<!-- wifi -->
<path d="M517,66 q0,-10 10,-8 l28,12 q10,5 10,16 v38 q0,8 -10,4 l-28,-12 q-10,-5 -10,-16z" fill="#f4b223"/>
<path d="M528,88 q14,-4 26,10 M532,98 q9,-2 17,7" stroke="#fdf0cf" stroke-width="5" fill="none"/><circle cx="540" cy="112" r="4" fill="#fdf0cf"/>
<!-- paper on floor -->
<polygon points="322,362 350,348 378,362 350,378" fill="#e4e6f2"/>
<!-- gray fence front -->
<g stroke="#6b6f84" stroke-width="8" fill="none">
<path d="M298,368 V462 M318,380 V474 M338,390 V484 M358,402 V496 M378,412 V506 M398,424 V518 M418,434 V528 M438,444 V524"/>
<path d="M298,392 L438,468 M298,440 L438,516"/>
</g>
<!-- workers -->
<g>
<path d="M92,268 q8,-5 16,0 l2,30 -2,34 h-7 l-2,-24 -2,24 h-7 l-1,-34z" fill="#f2b53a"/><path d="M94,300 h14 l-2,32 h-5 l-1,-22 -2,22 h-5z" fill="#f0f0f4"/><circle cx="100" cy="259" r="8" fill="#e8b48c"/><path d="M90,336 h22" stroke="#25262d" stroke-width="5"/>
<path d="M258,292 q8,-5 16,0 l2,30 -2,40 h-7 l-2,-26 -2,26 h-7 l-1,-40z" fill="#e8e9f1"/><circle cx="266" cy="283" r="8" fill="#e8b48c"/><path d="M250,366 h32" stroke="#25262d" stroke-width="9" stroke-linecap="round"/>
<polygon points="232,300 252,290 252,356 232,366" fill="#7fc0e6" opacity=".9"/>
<path d="M408,362 q8,-5 16,0 l2,40 h-20z" fill="#f2b53a"/><circle cx="416" cy="353" r="7" fill="#e8b48c"/>
<path d="M440,372 q8,-5 16,0 l3,36 -2,40 h-7 l-2,-30 -2,30 h-6 l-1,-40z" fill="#f2b53a"/><path d="M441,412 h16 l-2,36 h-5 l-1,-26 -2,26 h-5z" fill="#e9eaf2"/><circle cx="448" cy="363" r="7" fill="#e8b48c"/>
<path d="M432,425 V520" stroke="#6b6f84" stroke-width="9"/>
</g>
</svg>

<svg class="abs" style="left:625px;top:1315px" width="160" height="60" viewBox="0 0 790 296">
<circle cx="108" cy="128" r="42" fill="none" stroke="#3b4aa1" stroke-width="7"/>
<path d="M128,112 A26,26 0 1 0 128,144" fill="none" stroke="#3b4aa1" stroke-width="8"/>
<g fill="#2f4ca3">
<path d="M215,80 H296 V112 H273 V192 H238 V112 H215z"/>
<path d="M304,80 H386 V112 H363 V192 H328 V112 H304z"/>
<path d="M388,80 H432 L447,108 L462,80 H506 L469,136 L506,192 H462 L447,164 L432,192 H388 L425,136z"/>
<path d="M625,80 H661 L690,140 V80 H718 V192 H683 L653,132 V192 H625z"/>
</g>
<path d="M514,80 H553 L568,160 L584,80 H620 L590,192 H546z" fill="#d8202c"/>
<circle cx="546" cy="150" r="29" fill="#3b63b5"/>
<path d="M530,138 q10,-14 26,-8 q6,10 -4,18 q-8,10 -4,22 q-16,-4 -18,-32z" fill="#e6ecf7"/>
<ellipse cx="556" cy="152" rx="64" ry="17" transform="rotate(-24 556 152)" fill="none" stroke="#d8202c" stroke-width="4"/>
<text x="552" y="224" font-family="Liberation Sans, sans-serif" font-size="30" font-weight="bold" fill="#d8202c" text-anchor="middle" textLength="328" lengthAdjust="spacingAndGlyphs">Vietnam News Agency</text>
</svg>

<div class="t" style="left:251.0px;top:46.8px;font-size:44px;font-weight:normal;font-style:normal;color:#1b75bb;transform:scaleX(0.8501);">MARZO DE 2025</div>
<div class="t" style="left:170.9px;top:115.9px;font-size:35.5px;font-weight:bold;font-style:normal;color:#1b75bb;transform:scaleX(0.7305);-webkit-text-stroke:1.1px #1b75bb;letter-spacing:-1.2px;">ÍNDICE</div>
<div class="t" style="left:264.5px;top:115.9px;font-size:35.5px;font-weight:bold;font-style:normal;color:#1b75bb;transform:scaleX(0.7675);-webkit-text-stroke:1.1px #1b75bb;letter-spacing:-1.2px;">PMI</div>
<div class="t" style="left:320.0px;top:115.9px;font-size:35.5px;font-weight:bold;font-style:normal;color:#1b75bb;transform:scaleX(0.6988);-webkit-text-stroke:1.1px #1b75bb;letter-spacing:-1.2px;">SUPERA</div>
<div class="t" style="left:426.7px;top:115.9px;font-size:35.5px;font-weight:bold;font-style:normal;color:#1b75bb;transform:scaleX(0.6333);-webkit-text-stroke:1.1px #1b75bb;letter-spacing:-1.2px;">LOS</div>
<div class="t" style="left:479.6px;top:115.9px;font-size:35.5px;font-weight:bold;font-style:normal;color:#1b75bb;transform:scaleX(0.7603);-webkit-text-stroke:1.1px #1b75bb;letter-spacing:-1.2px;">50</div>
<div class="t" style="left:517.9px;top:115.9px;font-size:35.5px;font-weight:bold;font-style:normal;color:#1b75bb;transform:scaleX(0.7369);-webkit-text-stroke:1.1px #1b75bb;letter-spacing:-1.2px;">PUNTOS,</div>
<div class="t" style="left:17.3px;top:179.1px;font-size:35.5px;font-weight:bold;font-style:normal;color:#1b75bb;transform:scaleX(0.7541);-webkit-text-stroke:1.1px #1b75bb;letter-spacing:-1.2px;">INDUSTRIA</div>
<div class="t" style="left:165.0px;top:179.1px;font-size:35.5px;font-weight:bold;font-style:normal;color:#1b75bb;transform:scaleX(0.7203);-webkit-text-stroke:1.1px #1b75bb;letter-spacing:-1.2px;">MANUFACTURERA</div>
<div class="t" style="left:397.3px;top:179.1px;font-size:35.5px;font-weight:bold;font-style:normal;color:#1b75bb;transform:scaleX(0.6090);-webkit-text-stroke:1.1px #1b75bb;letter-spacing:-1.2px;">DE</div>
<div class="t" style="left:433.5px;top:179.1px;font-size:35.5px;font-weight:bold;font-style:normal;color:#1b75bb;transform:scaleX(0.7598);-webkit-text-stroke:1.1px #1b75bb;letter-spacing:-1.2px;">VIETNAM</div>
<div class="t" style="left:557.3px;top:179.1px;font-size:35.5px;font-weight:bold;font-style:normal;color:#1b75bb;transform:scaleX(0.7024);-webkit-text-stroke:1.1px #1b75bb;letter-spacing:-1.2px;">VUELVE</div>
<div class="t" style="left:658.8px;top:179.1px;font-size:35.5px;font-weight:bold;font-style:normal;color:#1b75bb;transform:scaleX(0.6516);-webkit-text-stroke:1.1px #1b75bb;letter-spacing:-1.2px;">A</div>
<div class="t" style="left:682.0px;top:179.1px;font-size:35.5px;font-weight:bold;font-style:normal;color:#1b75bb;transform:scaleX(0.6552);-webkit-text-stroke:1.1px #1b75bb;letter-spacing:-1.2px;">CRECER</div>
<div class="t" style="left:58.0px;top:257.2px;font-size:16.5px;font-weight:normal;font-style:italic;color:#000;transform:scaleX(0.9490);">PMI: Índice de Gerentes de Compras</div>
<div class="t" style="left:59.0px;top:310.0px;font-size:21.5px;font-weight:bold;font-style:normal;color:#111;transform:scaleX(0.9616);-webkit-text-stroke:0.5px #111;">PMI DEL SECTOR MANUFACTURERO POR MES</div>
<div class="t" style="left:58.8px;top:384.6px;font-size:16.5px;font-weight:normal;font-style:italic;color:#000;transform:scaleX(0.9846);">Ajuste estacional</div>
<div class="t" style="left:58.0px;top:407.9px;font-size:16.5px;font-weight:normal;font-style:italic;color:#000;transform:scaleX(0.9797);">PMI &gt;50: Mejoró respecto al mes anterior</div>
<div class="t" style="left:29.5px;top:474.9px;font-size:19.3px;font-weight:normal;font-style:normal;color:#727272;transform:scaleX(0.9459);">65</div>
<div class="t" style="left:29.5px;top:527.3px;font-size:19.3px;font-weight:normal;font-style:normal;color:#727272;transform:scaleX(0.9459);">60</div>
<div class="t" style="left:29.5px;top:579.8px;font-size:19.3px;font-weight:normal;font-style:normal;color:#727272;transform:scaleX(0.9459);">55</div>
<div class="t" style="left:29.5px;top:684.6px;font-size:19.3px;font-weight:normal;font-style:normal;color:#727272;transform:scaleX(0.9459);">45</div>
<div class="t" style="left:29.5px;top:737.1px;font-size:19.3px;font-weight:normal;font-style:normal;color:#727272;transform:scaleX(0.9459);">40</div>
<div class="t" style="left:29.5px;top:789.5px;font-size:19.3px;font-weight:normal;font-style:normal;color:#727272;transform:scaleX(0.9459);">35</div>
<div class="t" style="left:29.5px;top:842.0px;font-size:19.3px;font-weight:normal;font-style:normal;color:#727272;transform:scaleX(0.9459);">30</div>
<div class="t" style="left:25.6px;top:629.0px;font-size:23.3px;font-weight:normal;font-style:normal;color:#111;transform:scaleX(0.9340);">50</div>
<div class="t" style="left:55.6px;top:873.7px;font-size:20px;font-weight:normal;font-style:normal;color:#727272;transform:scaleX(0.9601);">'11</div>
<div class="t" style="left:104.6px;top:873.7px;font-size:20px;font-weight:normal;font-style:normal;color:#727272;transform:scaleX(0.9056);">'12</div>
<div class="t" style="left:153.6px;top:873.7px;font-size:20px;font-weight:normal;font-style:normal;color:#727272;transform:scaleX(0.9056);">'13</div>
<div class="t" style="left:202.6px;top:873.7px;font-size:20px;font-weight:normal;font-style:normal;color:#727272;transform:scaleX(0.9056);">'14</div>
<div class="t" style="left:251.6px;top:873.7px;font-size:20px;font-weight:normal;font-style:normal;color:#727272;transform:scaleX(0.9056);">'15</div>
<div class="t" style="left:300.6px;top:873.7px;font-size:20px;font-weight:normal;font-style:normal;color:#727272;transform:scaleX(0.9056);">'16</div>
<div class="t" style="left:349.6px;top:873.7px;font-size:20px;font-weight:normal;font-style:normal;color:#727272;transform:scaleX(0.9056);">'17</div>
<div class="t" style="left:398.6px;top:873.7px;font-size:20px;font-weight:normal;font-style:normal;color:#727272;transform:scaleX(0.9056);">'18</div>
<div class="t" style="left:447.6px;top:873.7px;font-size:20px;font-weight:normal;font-style:normal;color:#727272;transform:scaleX(0.9056);">'19</div>
<div class="t" style="left:496.6px;top:873.7px;font-size:20px;font-weight:normal;font-style:normal;color:#727272;transform:scaleX(0.9056);">'20</div>
<div class="t" style="left:545.6px;top:873.7px;font-size:20px;font-weight:normal;font-style:normal;color:#727272;transform:scaleX(0.9056);">'21</div>
<div class="t" style="left:594.6px;top:873.7px;font-size:20px;font-weight:normal;font-style:normal;color:#727272;transform:scaleX(0.9056);">'22</div>
<div class="t" style="left:643.6px;top:873.7px;font-size:20px;font-weight:normal;font-style:normal;color:#727272;transform:scaleX(0.9056);">'23</div>
<div class="t" style="left:692.6px;top:873.7px;font-size:20px;font-weight:normal;font-style:normal;color:#727272;transform:scaleX(0.9056);">'24</div>
<div class="t" style="left:727.2px;top:873.7px;font-size:20.7px;font-weight:normal;font-style:normal;color:#111;transform:scaleX(1.0248);">2025</div>
<div class="t" style="left:707.8px;top:524.3px;font-size:32.5px;font-weight:bold;font-style:normal;color:#e8501f;transform:scaleX(1.0119);-webkit-text-stroke:0.4px #e8501f;">50,5</div>
<div class="t" style="left:717.5px;top:561.0px;font-size:18px;font-weight:bold;font-style:normal;color:#7a7a7a;transform:scaleX(0.9423);">Marzo</div>
<div class="t" style="left:248.4px;top:948.5px;font-size:21.5px;font-weight:bold;font-style:normal;color:#111;transform:scaleX(0.9585);-webkit-text-stroke:0.5px #111;">LO MÁS DESTACADO DEL MES</div>
<div class="t" style="left:60.0px;top:1227.7px;font-size:21px;font-weight:normal;font-style:normal;color:#111;transform:scaleX(1.0059);">La producción y los nuevos</div>
<div class="t" style="left:93.5px;top:1254.9px;font-size:21px;font-weight:normal;font-style:normal;color:#111;transform:scaleX(1.0416);">pedidos repuntaron</div>
<div class="t" style="left:430.5px;top:1227.4px;font-size:20.5px;font-weight:normal;font-style:normal;color:#111;transform:scaleX(0.9562);">Los precios de producción cayeron</div>
<div class="t" style="left:451.0px;top:1252.8px;font-size:20.5px;font-weight:normal;font-style:normal;color:#111;transform:scaleX(0.9419);">y se desaceleró el aumento de</div>
<div class="t" style="left:487.0px;top:1277.6px;font-size:20.5px;font-weight:normal;font-style:normal;color:#111;transform:scaleX(0.9446);">los costos de insumos</div>
<div class="t" style="left:20.5px;top:1315.8px;font-size:19.5px;font-weight:bold;font-style:normal;color:#000;transform:scaleX(0.9193);-webkit-text-stroke:0.45px #000;">Fuente: S&amp;P Global</div>
<div class="t" style="left:20.0px;top:1354.3px;font-size:19px;font-weight:bold;font-style:italic;color:#fff;transform:scaleX(0.8731);">infographics.vn</div>

</body></html>
